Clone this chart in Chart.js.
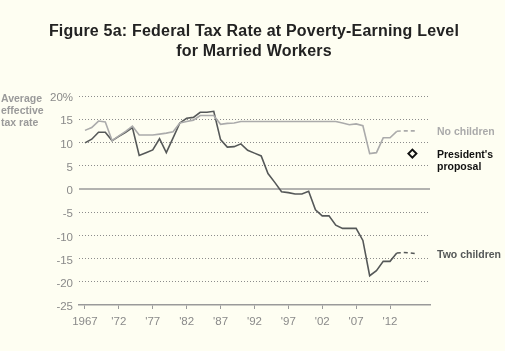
<!DOCTYPE html>
<html>
<head>
<meta charset="utf-8">
<script src="https://cdn.jsdelivr.net/npm/chart.js@4"></script>
<style>
  html, body { margin: 0; padding: 0; background: #fefef2; }
  #wrap { width: 505px; height: 351px; position: relative; }
</style>
</head>
<body>
<div id="wrap"><canvas id="chart" width="505" height="351"></canvas></div>
<script>
// years 1967-2013 (actual), 2013-2016 (projected, dashed)
const years = [1967,1968,1969,1970,1971,1972,1973,1974,1975,1976,1977,1978,1979,1980,
  1981,1982,1983,1984,1985,1986,1987,1988,1989,1990,1991,1992,1993,1994,1995,1996,
  1997,1998,1999,2000,2001,2002,2003,2004,2005,2006,2007,2008,2009,2010,2011,2012,2013];
const noChildren = [12.6,13.2,14.6,14.4,10.4,11.4,12.4,13.5,11.6,11.6,11.6,11.8,12.0,12.3,
  14.2,14.5,14.8,15.8,15.8,15.8,13.9,14.1,14.2,14.5,14.5,14.5,14.5,14.5,14.5,14.5,
  14.5,14.5,14.5,14.5,14.5,14.5,14.5,14.5,14.2,13.8,14.0,13.6,7.6,7.8,11.0,11.0,12.4];
const twoChildren = [9.9,10.7,12.2,12.2,10.4,11.3,12.2,13.2,7.2,7.8,8.4,10.8,7.8,11.0,
  14.2,15.2,15.4,16.5,16.5,16.7,10.6,9.0,9.1,9.7,8.3,7.7,7.1,3.3,1.4,-0.6,
  -0.8,-1.1,-1.1,-0.5,-4.5,-5.8,-5.8,-7.8,-8.5,-8.5,-8.5,-11.1,-18.7,-17.6,-15.6,-15.6,-13.8];
const projYears = [2013,2014,2015,2016];
const noChildrenProj = [12.4,12.5,12.5,12.5];
const twoChildrenProj = [-13.8,-13.7,-13.8,-14.0];
const proposalYear = 2015.3;
const proposalRate = 7.6;

const xTicks = [1967,1972,1977,1982,1987,1992,1997,2002,2007,2012];
const yTicks = [20,15,10,5,0,-5,-10,-15,-20,-25];

const title = ["Figure 5a: Federal Tax Rate at Poverty-Earning Level", "for Married Workers"];
const yTitle = ["Average", "effective", "tax rate"];

const toPts = (xs, ys) => xs.map((x, i) => ({ x: x, y: ys[i] }));

const DARK = "#555858";
const LIGHT = "#ababab";
const FONT = "'Liberation Sans', Arial, sans-serif";

const extras = {
  id: "extras",
  beforeDatasetsDraw(chart) {
    const { ctx, chartArea, scales } = chart;
    // zero line
    const y0 = scales.y.getPixelForValue(0);
    ctx.save();
    ctx.strokeStyle = "#9a9a9a";
    ctx.lineWidth = 1.5;
    ctx.beginPath();
    ctx.moveTo(chartArea.left, y0);
    ctx.lineTo(chartArea.right, y0);
    ctx.stroke();
    ctx.restore();
  },
  afterDraw(chart) {
    const { ctx, chartArea, scales } = chart;
    ctx.save();
    ctx.fillStyle = "#222";
    ctx.textAlign = "center";
    ctx.textBaseline = "middle";
    ctx.font = "bold 16px " + FONT;
    ctx.letterSpacing = "0.2px";
    ctx.fillText(title[0], 254, 32);
    ctx.fillText(title[1], 254, 52);
    ctx.letterSpacing = "0px";

    ctx.textAlign = "left";
    ctx.font = "bold 10.5px " + FONT;
    ctx.fillStyle = "#9a9a9a";
    yTitle.forEach((t, i) => ctx.fillText(t, 1, 99 + i * 12));

    const lx = chartArea.right + 7;
    ctx.font = "bold 10.5px " + FONT;
    ctx.fillStyle = LIGHT;
    ctx.fillText("No children", lx, scales.y.getPixelForValue(noChildrenProj[3]) + 1);
    ctx.fillStyle = "#111";
    const py = scales.y.getPixelForValue(proposalRate);
    ctx.fillText("President's", lx, py + 2);
    ctx.fillText("proposal", lx, py + 14);
    ctx.fillStyle = DARK;
    ctx.fillText("Two children", lx, scales.y.getPixelForValue(twoChildrenProj[3]) + 1);
    ctx.restore();
  }
};

new Chart(document.getElementById("chart"), {
  type: "line",
  data: {
    datasets: [
      { data: toPts(years, noChildren), borderColor: LIGHT, borderWidth: 1.6, pointRadius: 0, tension: 0 },
      { data: toPts(projYears, noChildrenProj), borderColor: LIGHT, borderWidth: 1.6, borderDash: [4, 3], pointRadius: 0 },
      { data: toPts(years, twoChildren), borderColor: DARK, borderWidth: 1.6, pointRadius: 0, tension: 0 },
      { data: toPts(projYears, twoChildrenProj), borderColor: DARK, borderWidth: 1.6, borderDash: [4, 3], pointRadius: 0 },
      { type: "scatter", data: [{ x: proposalYear, y: proposalRate }], pointStyle: "rectRot",
        pointRadius: 4, borderColor: "#111", borderWidth: 2, backgroundColor: "#fefef2" }
    ]
  },
  options: {
    responsive: false,
    animation: false,
    layout: { padding: { top: 96, right: 75, left: 0, bottom: 0 } },
    plugins: { legend: { display: false }, tooltip: { enabled: false } },
    scales: {
      x: {
        type: "linear",
        min: 1966.12,
        max: 2017.9,
        afterBuildTicks: s => { s.ticks = xTicks.map(v => ({ value: v })); },
        afterFit: s => { s.height = 46; },
        grid: { drawOnChartArea: false, drawTicks: true, tickLength: 4, color: "#9a9a9a", lineWidth: 1 },
        border: { display: true, color: "#9a9a9a", width: 1.5 },
        ticks: {
          color: "#8a8a8a",
          font: { family: FONT, size: 11.5 },
          padding: 6,
          maxRotation: 0,
          callback: v => v === 1967 ? "1967" : "'" + String(v).slice(2)
        }
      },
      y: {
        min: -25,
        max: 20,
        afterBuildTicks: s => { s.ticks = yTicks.map(v => ({ value: v })); },
        afterFit: s => { s.width = 79; },
        grid: {
          drawTicks: false,
          color: c => (c.tick.value === -25 || c.tick.value === 0) ? "rgba(0,0,0,0)" : "#8c8c8c",
          lineWidth: 1
        },
        border: { display: false, dash: [1, 2] },
        ticks: {
          color: "#8a8a8a",
          font: { family: FONT, size: 11.5 },
          padding: 6,
          labelOffset: 2,
          callback: v => v === 20 ? "20%" : String(v)
        }
      }
    }
  },
  plugins: [extras]
});
</script>
</body>
</html>
